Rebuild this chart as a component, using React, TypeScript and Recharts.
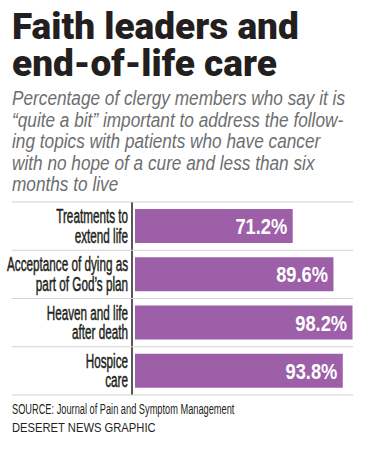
import React from 'react';
import { BarChart, Bar, XAxis, YAxis, LabelList } from 'recharts';

const topics = [
  'Treatments to\nextend life',
  "Acceptance of dying as\npart of God\u2019s plan",
  'Heaven and life\nafter death',
  'Hospice\ncare',
];
const shares = [71.2, 89.6, 98.2, 93.8];

const data = topics.map((topic, i) => ({ topic, share: shares[i] }));

// no condensed faces installed, so squeeze Liberation Sans horizontally
const SANS = "'Liberation Sans', Arial, sans-serif";
const PURPLE = '#9c5fa8';
const INK = '#231f20';
const RULE = '#d2d2d2';

const TopicTick = (props: any) => {
  const { x, y, payload } = props;
  const lines = String(payload.value).split('\n');
  const half = payload.offset || 0;
  return (
    <g>
      {payload.index === 0 && (
        <line x1={12} x2={353} y1={y - half} y2={y - half} stroke={RULE} strokeWidth={1.2} />
      )}
      <line x1={12} x2={353} y1={y + half} y2={y + half} stroke={RULE} strokeWidth={1.2} />
      <text
        transform={`translate(${x} ${y}) scale(0.6 1)`}
        textAnchor="end"
        fill={INK}
        stroke={INK}
        strokeWidth={0.5}
        fontFamily={SANS}
        fontSize={19.5}
      >
        {lines.map((line, i) => (
          <tspan key={i} x={0} y={-3 + i * 19.5}>
            {line}
          </tspan>
        ))}
      </text>
    </g>
  );
};

const ValueLabel = (props: any) => {
  const { x, y, width, height, value } = props;
  return (
    <text
      transform={`translate(${x + width - 5.5} ${y + height / 2 + 8}) scale(0.83 1)`}
      textAnchor="end"
      fill="#fff"
      fontFamily={SANS}
      fontWeight={700}
      fontSize={22}
    >
      {value.toFixed(1)}%
    </text>
  );
};

export default function App() {
  return (
    <div
      style={{
        position: 'absolute',
        left: 0,
        top: 0,
        width: 366,
        height: 450,
        background: '#fff',
        overflow: 'hidden',
      }}
    >
      <div
        style={{
          position: 'absolute',
          left: 12,
          top: 8,
          fontFamily: 'Roboto, Inter, sans-serif',
          fontWeight: 900,
          fontSize: 37,
          lineHeight: '37px',
          color: INK,
          whiteSpace: 'nowrap',
        }}
      >
        Faith leaders and
        <br />
        end-of-life care
      </div>
      <div
        style={{
          position: 'absolute',
          left: 12,
          top: 87,
          fontFamily: SANS,
          fontStyle: 'italic',
          fontSize: 20.5,
          lineHeight: '21.5px',
          color: '#6d6e70',
          whiteSpace: 'nowrap',
          transform: 'scaleX(0.84)',
          transformOrigin: 'left top',
        }}
      >
        Percentage of clergy members who say it is
        <br />
        {'\u201cquite a bit\u201d important to address the follow-'}
        <br />
        ing topics with patients who have cancer
        <br />
        with no hope of a cure and less than six
        <br />
        months to live
      </div>
      <div style={{ position: 'absolute', left: 0, top: 198 }}>
        <BarChart
          width={366}
          height={200}
          layout="vertical"
          data={data}
          margin={{ top: 4, right: 9.5, bottom: 3, left: 0 }}
        >
          <XAxis type="number" domain={[-1.35, 100]} allowDataOverflow hide />
          <YAxis
            type="category"
            dataKey="topic"
            width={132}
            tickLine={false}
            tickSize={0}
            tickMargin={4}
            axisLine={{ stroke: INK, strokeWidth: 1.5 }}
            tick={<TopicTick />}
            interval={0}
          />
          <Bar dataKey="share" fill={PURPLE} barSize={34} isAnimationActive={false}>
            <LabelList dataKey="share" content={<ValueLabel />} />
          </Bar>
        </BarChart>
      </div>
      <div
        style={{
          position: 'absolute',
          left: 12,
          top: 401.5,
          fontFamily: SANS,
          fontSize: 14,
          lineHeight: '15px',
          color: INK,
          whiteSpace: 'nowrap',
          transform: 'scaleX(0.66)',
          transformOrigin: 'left top',
        }}
      >
        SOURCE: Journal of Pain and Symptom Management
      </div>
      <div
        style={{
          position: 'absolute',
          left: 12,
          top: 419.5,
          fontFamily: SANS,
          fontSize: 13.5,
          lineHeight: '15px',
          color: INK,
          whiteSpace: 'nowrap',
          transform: 'scaleX(0.83)',
          transformOrigin: 'left top',
        }}
      >
        DESERET NEWS GRAPHIC
      </div>
    </div>
  );
}
